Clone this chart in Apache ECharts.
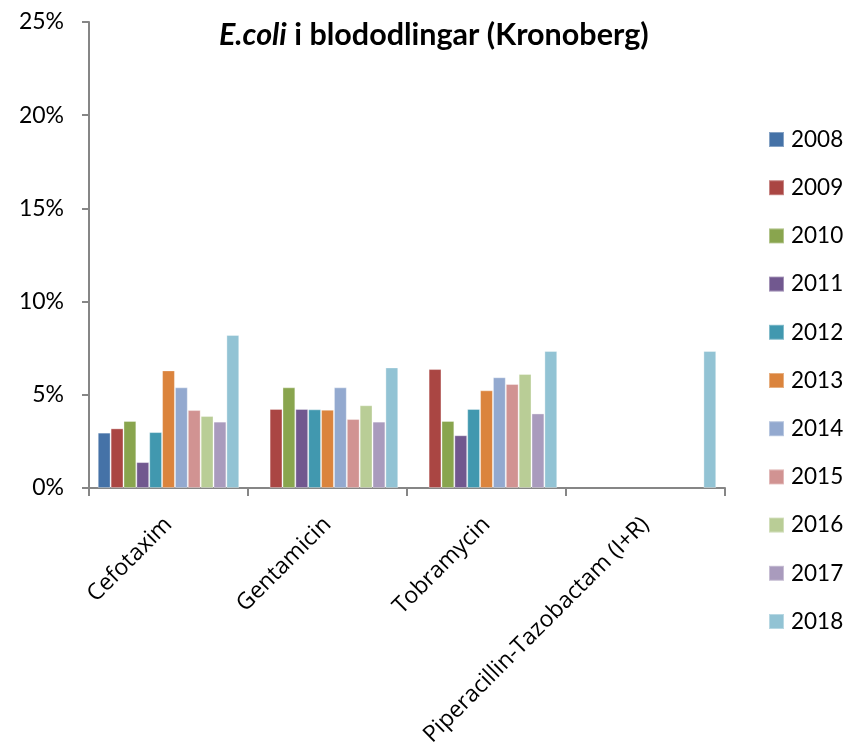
<!DOCTYPE html>
<html>
<head>
<meta charset="utf-8">
<script src="https://cdn.jsdelivr.net/npm/echarts@6/dist/echarts.min.js"></script>
<style>html,body{margin:0;padding:0;background:#fff;}#c{width:847px;height:743px;}</style>
</head>
<body>
<div id="c"></div>
<script>
const categories = ['Cefotaxim', 'Gentamicin', 'Tobramycin', 'Piperacillin-Tazobactam (I+R)'];
const years = ['2008','2009','2010','2011','2012','2013','2014','2015','2016','2017','2018'];
const colors = ['#4572A7','#AA4643','#89A54E','#71588F','#4198AF','#DB843D','#93A9CF','#D19392','#B9CD96','#A99BBD','#92C3D4'];
const v2008 = [2.97, null, null, null];
const v2009 = [3.2, 4.24, 6.38, null];
const v2010 = [3.6, 5.4, 3.6, null];
const v2011 = [1.39, 4.24, 2.83, null];
const v2012 = [3.0, 4.22, 4.24, null];
const v2013 = [6.31, 4.2, 5.24, null];
const v2014 = [5.4, 5.4, 5.94, null];
const v2015 = [4.18, 3.7, 5.58, null];
const v2016 = [3.86, 4.44, 6.12, null];
const v2017 = [3.56, 3.56, 4.0, null];
const v2018 = [8.21, 6.47, 7.35, 7.35];
const seriesValues = [v2008, v2009, v2010, v2011, v2012, v2013, v2014, v2015, v2016, v2017, v2018];
const yTicks = [0, 5, 10, 15, 20, 25];

const chart = echarts.init(document.getElementById('c'));
chart.setOption({
  animation: false,
  color: colors,
  title: {
    text: '{i|E.coli}{b| i blododlingar (Kronoberg)}',
    left: 219, top: 20,
    padding: 0,
    textStyle: {
      rich: {
        i: {fontFamily: 'Lato', fontWeight: 'bold', fontStyle: 'italic', fontSize: 30.5, color: '#000'},
        b: {fontFamily: 'Lato', fontWeight: 'bold', fontSize: 30.5, color: '#000'}
      }
    }
  },
  legend: {
    orient: 'vertical',
    left: 768, top: 128,
    padding: 0,
    itemWidth: 15, itemHeight: 15,
    itemGap: 25.2,
    icon: 'rect',
    textStyle: {fontFamily: 'Lato', fontSize: 22.5, color: '#000', padding: [0,0,0,2]},
    data: years
  },
  grid: {left: 89, right: 122, top: 22, bottom: 255, containLabel: false, outerBoundsMode: 'none'},
  xAxis: {
    type: 'category',
    data: categories,
    axisLine: {lineStyle: {color: '#868686', width: 2}},
    axisTick: {show: true, length: 8, lineStyle: {color: '#868686', width: 2}},
    axisLabel: {rotate: 45, margin: 33, fontFamily: 'Open Sans', fontSize: 23, color: '#000', interval: 0}
  },
  yAxis: {
    type: 'value',
    min: 0, max: 25, interval: 5,
    axisLine: {show: true, lineStyle: {color: '#868686', width: 2}},
    axisTick: {show: true, length: 7, lineStyle: {color: '#868686', width: 2}},
    splitLine: {show: false},
    axisLabel: {formatter: v => yTicks.includes(v) ? v + '%' : '', margin: 25, fontFamily: 'Lato', fontSize: 23, color: '#000'}
  },
  series: years.map((y, i) => ({
    name: y,
    type: 'bar',
    data: seriesValues[i],
    barGap: '0%',
    barCategoryGap: '11%',
    itemStyle: {color: colors[i], borderColor: 'rgba(255,255,255,0.35)', borderWidth: 1}
  }))
});
</script>
</body>
</html>
